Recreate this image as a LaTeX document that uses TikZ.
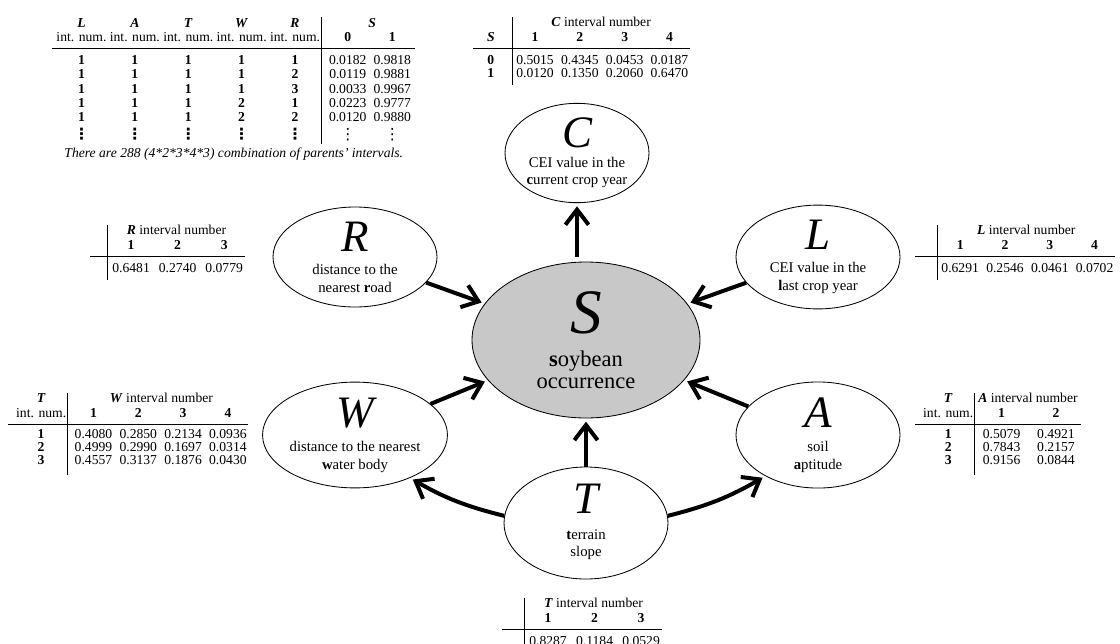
\documentclass[tikz,border=0pt]{standalone}
\usepackage{fontspec}
\setmainfont{Liberation Serif}
\newfontfamily\symfont{DejaVu Sans}
\usepackage{array}
\usetikzlibrary{shapes.geometric, positioning, arrows.meta}
\definecolor{occgray}{RGB}{200,200,200}

\newcommand{\vn}[1]{\textbf{\textit{#1}}}
\newcommand{\tabfont}{\fontsize{9.7}{8.4}\selectfont}
\newcommand{\bigfont}{\fontsize{32}{32}\selectfont\itshape}
\newcommand{\headstrut}{\rule[-4.5pt]{0pt}{12.3pt}}
\newcommand{\firststrut}{\rule{0pt}{11.7pt}}
\newcommand{\laststrut}[1]{\rule[-#1]{0pt}{#1}}
\newcommand{\vd}{\raisebox{-2.5pt}{\symfont\fontsize{11}{11}\selectfont ⋮}}
\setlength{\tabcolsep}{2.6pt}

\begin{document}
\begin{tikzpicture}[x=0.25mm, y=-0.25mm]

    % Styles for the variables, the tables and the arrows
    \tikzstyle{var} = [ellipse, draw=black, line width=0.6pt, inner sep=0pt,
                       minimum width=41mm, minimum height=25mm,
                       align=center, font=\fontsize{10.5}{12.5}\selectfont]
    \tikzstyle{tab} = [inner sep=0pt, anchor=north west, font=\tabfont]
    \tikzstyle{arr} = [line width=1mm, -{Straight Barb[length=3.8mm, width=5.8mm]},
                       shorten >=0.8mm]

    \useasboundingbox (0,0) rectangle (1120,643);

    % Soybean occurrence
    \node[var, fill=occgray, minimum width=57mm, minimum height=39mm,
          font=\fontsize{16}{15.6}\selectfont] (S) at (586,340)
          {{\fontsize{45}{45}\selectfont\itshape S}\\[7.8pt] \textbf{s}oybean\\ occurrence};

    % CEI of the current crop year
    \node[var, minimum width=36mm, minimum height=24mm] (C) at (577,153)
          {{\bigfont C}\\[1.5pt] CEI value in the\\ \textbf{c}urrent crop year};

    % Distance to the road
    \node[var] (R) at (355,257) {{\bigfont R}\\[4pt] distance to the\\ nearest \textbf{r}oad};

    % CEI of the last crop year
    \node[var] (L) at (818,257) {{\bigfont L}\\[4pt] CEI value in the\\ \textbf{l}ast crop year};

    % Distance to water
    \node[var] (W) at (355,435) {{\bigfont W}\\[5pt] distance to the nearest\\ \textbf{w}ater body};

    % Soil aptitude
    \node[var] (A) at (818,435) {{\bigfont A}\\[5pt] soil\\ \textbf{a}ptitude};

    % Terrain slope
    \node[var, minimum height=28mm] (T) at (586,523) {{\bigfont T}\\[6pt] \textbf{t}errain\\ slope\rule[-4pt]{0pt}{0pt}};

    % Arrows
    \draw[arr, shorten <=1.2mm] (C.south |- S.north) -- (C.south);
    \draw[arr] (R) -- (S);
    \draw[arr] (L) -- (S);
    \draw[arr] (W) -- (S);
    \draw[arr] (A) -- (S);
    \draw[arr] (T) -- (S);
    \draw[arr] (T.175) to[bend left=8] (W.-38);
    \draw[arr] (T.5) to[bend right=8] (A.-142);

    % Table of S given its parents
    \node[tab, font=\fontsize{9.7}{10.1}\selectfont] (tabS) at (52,17) {%
      \begin{tabular}{@{\hspace{3pt}}>{\bfseries}c@{\hspace{2.4pt}}>{\bfseries}c@{\hspace{2.4pt}}>{\bfseries}c@{\hspace{2.4pt}}>{\bfseries}c@{\hspace{2.4pt}}>{\bfseries}c@{\hspace{1pt}}|@{\hspace{5pt}}c@{\hspace{5pt}}c@{\hspace{3pt}}}
        \vn{L} & \vn{A} & \vn{T} & \vn{W} & \vn{R} & \multicolumn{2}{c}{\vn{S}}\\
        \mdseries int. num. & \mdseries int. num. & \mdseries int. num. & \mdseries int. num. & \mdseries int. num. & \textbf{0} & \textbf{1}\rule[-4.5pt]{0pt}{0pt}\\ \hline
        1 & 1 & 1 & 1 & 1 & 0.0182 & 0.9818\firststrut\\
        1 & 1 & 1 & 1 & 2 & 0.0119 & 0.9881\\
        1 & 1 & 1 & 1 & 3 & 0.0033 & 0.9967\\
        1 & 1 & 1 & 2 & 1 & 0.0223 & 0.9777\\
        1 & 1 & 1 & 2 & 2 & 0.0120 & 0.9880\\
        \vd & \vd & \vd & \vd & \vd & \vd & \vd\rule[-6pt]{0pt}{0pt}\\
      \end{tabular}};
    \node[inner sep=0pt, font=\fontsize{9.7}{10}\selectfont\itshape, below=0.8mm of tabS] (note)
          {There are 288 (4*2*3*4*3) combination of parents' intervals.};

    % Table of C
    \node[tab] (tabC) at (473,17) {%
      \begin{tabular}{@{}>{\bfseries}w{c}{25pt}|cccc@{\hspace{1pt}}}
        & \multicolumn{4}{c}{\vn{C} interval number}\\
        \vn{S} & \textbf{1} & \textbf{2} & \textbf{3} & \textbf{4}\headstrut\\ \hline
        0 & 0.5015 & 0.4345 & 0.0453 & 0.0187\firststrut\\
        1 & 0.0120 & 0.1350 & 0.2060 & 0.6470\laststrut{5.5pt}\\
      \end{tabular}};

    % Table of R
    \node[tab] (tabR) at (90,225) {%
      \begin{tabular}{@{}w{c}{9.5pt}|*{3}{w{c}{27.9pt}}@{\hspace{1pt}}}
        & \multicolumn{3}{c}{\vn{R} interval number}\\
        & \textbf{1} & \textbf{2} & \textbf{3}\headstrut\\ \hline
        & 0.6481 & 0.2740 & 0.0779\firststrut\laststrut{5.5pt}\\
      \end{tabular}};

    % Table of L
    \node[tab] (tabL) at (915,225) {%
      \begin{tabular}{@{}w{c}{13pt}|cccc@{\hspace{1pt}}}
        & \multicolumn{4}{c}{\vn{L} interval number}\\
        & \textbf{1} & \textbf{2} & \textbf{3} & \textbf{4}\headstrut\\ \hline
        & 0.6291 & 0.2546 & 0.0461 & 0.0702\firststrut\laststrut{5.5pt}\\
      \end{tabular}};

    % Table of W given T
    \node[tab] (tabW) at (8,393) {%
      \begin{tabular}{@{\hspace{5.6pt}}>{\bfseries}c@{\hspace{0.7pt}}|@{\hspace{5pt}}cccc@{\hspace{1pt}}}
        \vn{T} & \multicolumn{4}{c}{\vn{W} interval number}\\
        \mdseries int. num. & \textbf{1} & \textbf{2} & \textbf{3} & \textbf{4}\headstrut\\ \hline
        1 & 0.4080 & 0.2850 & 0.2134 & 0.0936\rule{0pt}{10.5pt}\\
        2 & 0.4999 & 0.2990 & 0.1697 & 0.0314\\
        3 & 0.4557 & 0.3137 & 0.1876 & 0.0430\laststrut{8pt}\\
      \end{tabular}};

    % Table of A given T
    \node[tab] (tabA) at (915,393) {%
      \begin{tabular}{@{\hspace{5.6pt}}>{\bfseries}c@{\hspace{0.7pt}}|*{2}{w{c}{33pt}}@{\hspace{1pt}}}
        \vn{T} & \multicolumn{2}{c}{\vn{A} interval number}\\
        \mdseries int. num. & \textbf{1} & \textbf{2}\headstrut\\ \hline
        1 & 0.5079 & 0.4921\rule{0pt}{10.5pt}\\
        2 & 0.7843 & 0.2157\\
        3 & 0.9156 & 0.0844\laststrut{8pt}\\
      \end{tabular}};

    % Table of T
    \node[tab] (tabT) at (502,598) {%
      \begin{tabular}{@{}w{c}{13pt}|*{3}{w{c}{27.9pt}}@{\hspace{1pt}}}
        & \multicolumn{3}{c}{\vn{T} interval number}\\
        & \textbf{1} & \textbf{2} & \textbf{3}\headstrut\\ \hline
        & 0.8287 & 0.1184 & 0.0529\firststrut\laststrut{5.5pt}\\
      \end{tabular}};

\end{tikzpicture}
\end{document}
